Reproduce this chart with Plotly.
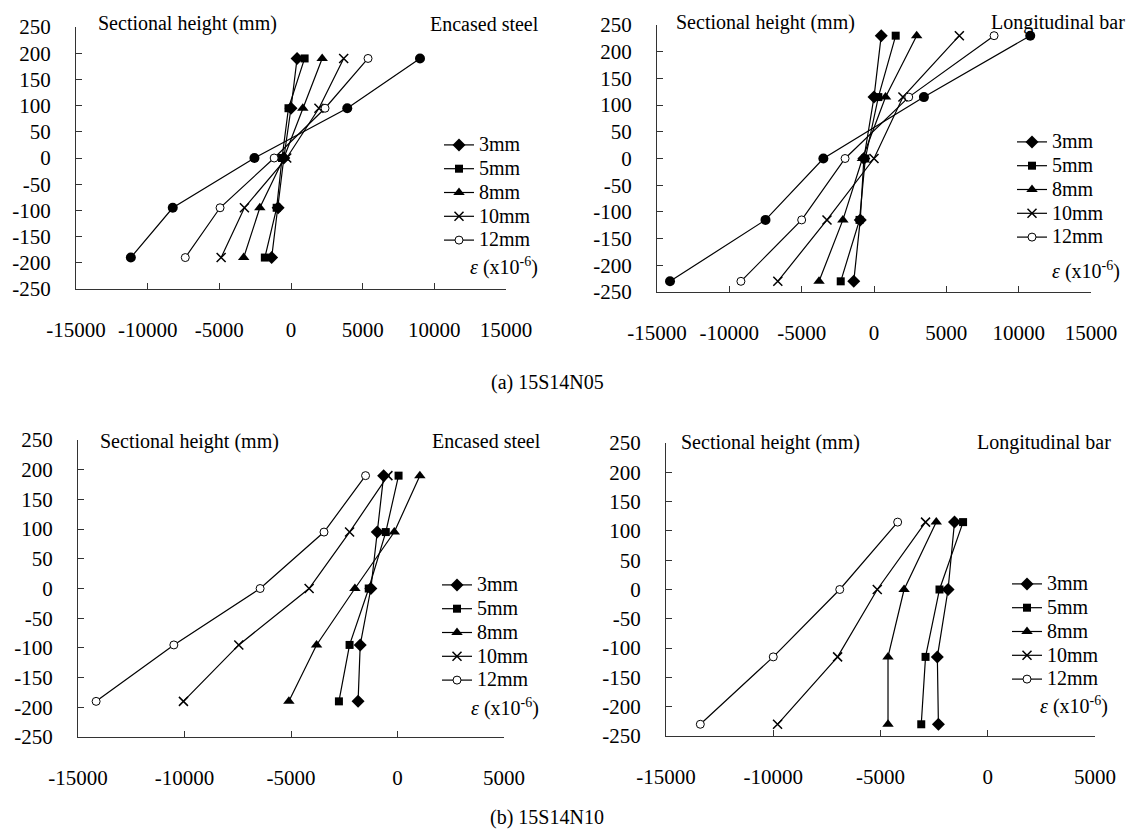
import plotly.graph_objects as go

W, H = 1133, 833
FONT = "Liberation Serif, Times New Roman, serif"

# ---------------- data ----------------
series_names = ["3mm", "5mm", "8mm", "10mm", "12mm"]

heights_a_steel = [190, 95, 0, -95, -190]
heights_a_bar = [230, 115, 0, -115, -230]
heights_b_steel = [190, 95, 0, -95, -190]
heights_b_bar = [115, 0, -115, -230]

# (a) 15S14N05 - encased steel strain (x1e-6)
a_steel_3 = [425, 0, -500, -900, -1350]
a_steel_5 = [950, -175, -625, -1000, -1825]
a_steel_8 = [2175, 825, -500, -2175, -3300]
a_steel_10 = [3675, 1950, -300, -3250, -4875]
a_steel_12 = [5375, 2375, -1175, -4950, -7375]
a_steel_extra = [9000, 3925, -2550, -8250, -11175]

# (a) 15S14N05 - longitudinal bar strain
a_bar_3 = [500, 0, -700, -950, -1400]
a_bar_5 = [1500, 300, -600, -1000, -2300]
a_bar_8 = [2950, 800, -800, -2150, -3800]
a_bar_10 = [5900, 2000, 0, -3250, -6650]
a_bar_12 = [8300, 2400, -2000, -5000, -9200]
a_bar_extra = [10800, 3450, -3500, -7500, -14100]

# (b) 15S14N10 - encased steel strain
b_steel_3 = [-650, -950, -1250, -1750, -1850]
b_steel_5 = [50, -550, -1350, -2250, -2750]
b_steel_8 = [1050, -150, -2000, -3800, -5100]
b_steel_10 = [-450, -2250, -4150, -7450, -10050]
b_steel_12 = [-1500, -3450, -6450, -10500, -14150]

# (b) 15S14N10 - longitudinal bar strain
b_bar_3 = [-1550, -1850, -2350, -2300]
b_bar_5 = [-1150, -2250, -2900, -3100]
b_bar_8 = [-2400, -3900, -4650, -4650]
b_bar_10 = [-2900, -5150, -7000, -9800]
b_bar_12 = [-4200, -6900, -10000, -13400]

xticks_a = [-15000, -10000, -5000, 0, 5000, 10000, 15000]
xticklabels_a = ["-15000", "-10000", "-5000", "0", "5000", "10000", "15000"]
xticks_b = [-15000, -10000, -5000, 0, 5000]
xticklabels_b = ["-15000", "-10000", "-5000", "0", "5000"]
yticks = [-250, -200, -150, -100, -50, 0, 50, 100, 150, 200, 250]
yticklabels = ["-250", "-200", "-150", "-100", "-50", "0", "50", "100", "150", "200", "250"]

# ---------------- styles ----------------
marker_styles = [
    dict(symbol="diamond", size=10, color="black"),
    dict(symbol="square", size=8, color="black"),
    dict(symbol="triangle-up", size=10, color="black"),
    dict(symbol="x-thin", size=9, color="black", line=dict(width=1.5, color="black")),
    dict(symbol="circle", size=8, color="white", line=dict(width=1, color="black")),
]
extra_marker = dict(symbol="circle", size=10, color="black")


def px_x(p):
    return p / W


def px_y(p):
    return 1 - p / H


fig = go.Figure()

panels = [
    ("", "legend", heights_a_steel,
     [a_steel_3, a_steel_5, a_steel_8, a_steel_10, a_steel_12], a_steel_extra),
    ("2", "legend2", heights_a_bar,
     [a_bar_3, a_bar_5, a_bar_8, a_bar_10, a_bar_12], a_bar_extra),
    ("3", "legend3", heights_b_steel,
     [b_steel_3, b_steel_5, b_steel_8, b_steel_10, b_steel_12], None),
    ("4", "legend4", heights_b_bar,
     [b_bar_3, b_bar_5, b_bar_8, b_bar_10, b_bar_12], None),
]

for suf, leg, hts, series, extra in panels:
    xa = "x" + suf
    ya = "y" + suf
    if extra is not None:
        fig.add_trace(go.Scatter(
            x=extra, y=hts, mode="lines+markers", xaxis=xa, yaxis=ya,
            line=dict(color="black", width=1.2), marker=extra_marker,
            showlegend=False, cliponaxis=False))
    for name, vals, ms in zip(series_names, series, marker_styles):
        fig.add_trace(go.Scatter(
            x=vals, y=hts, mode="lines+markers",
            name='<span style="font-size:20px">' + name + '</span>',
            xaxis=xa, yaxis=ya,
            line=dict(color="black", width=1.2), marker=ms, legend=leg,
            cliponaxis=False))

axis_common = dict(
    showgrid=False, zeroline=False, showline=True, linecolor="#333", linewidth=1.3,
    ticks="inside", ticklen=6, tickcolor="#333", tickwidth=1.2, automargin=False,
    tickfont=dict(family=FONT, size=21, color="black"),
)

# panel geometry in pixels: (x0, x1, ytop, ybottom)
geom = {
    "": (76, 506, 27, 289),
    "2": (657, 1091, 25, 292),
    "3": (78, 504, 440, 737),
    "4": (666, 1095, 443, 736),
}

layout = dict(
    template="none",
    width=W, height=H, margin=dict(l=0, r=0, t=0, b=0, autoexpand=False),
    paper_bgcolor="white", plot_bgcolor="white",
    font=dict(family=FONT, size=20, color="black"),
)

for suf, (x0, x1, yt, yb) in geom.items():
    wide = suf in ("", "2")
    xr = [-15000, 15000] if wide else [-15000, 5000]
    xt = xticks_a if wide else xticks_b
    xl = xticklabels_a if wide else xticklabels_b
    layout["xaxis" + suf] = dict(
        axis_common, domain=[px_x(x0), px_x(x1)], range=xr, tickvals=xt, ticktext=xl,
        anchor="y" + suf, ticklabelstandoff=22, fixedrange=True)
    layout["yaxis" + suf] = dict(
        axis_common, domain=[px_y(yb), px_y(yt)], range=[-250, 250], tickvals=yticks,
        ticktext=yticklabels, anchor="x" + suf, ticklabelstandoff=20, fixedrange=True)

leg_common = dict(
    bgcolor="rgba(0,0,0,0)", borderwidth=0, xanchor="left", yanchor="top",
    font=dict(family=FONT, size=16, color="black"), tracegroupgap=0,
    itemclick=False, itemdoubleclick=False,
)
layout["legend"] = dict(leg_common, x=px_x(439), y=px_y(128))
layout["legend2"] = dict(leg_common, x=px_x(1012), y=px_y(125))
layout["legend3"] = dict(leg_common, x=px_x(437), y=px_y(568))
layout["legend4"] = dict(leg_common, x=px_x(1007), y=px_y(567))

fig.update_layout(**layout)

ann = []


def text(x, y, s, anchor="left", size=20):
    ann.append(dict(x=px_x(x), y=px_y(y), xref="paper", yref="paper", text=s,
                    showarrow=False, xanchor=anchor, yanchor="middle",
                    font=dict(family=FONT, size=size, color="black")))


eps = "<i>ε</i> (x10<sup>-6</sup>)"
# panel (a) left
text(96, 24, "Sectional height (mm)")
text(541, 24, "Encased steel", "right")
text(540, 266, eps, "right")
# panel (a) right
text(674, 22, "Sectional height (mm)")
text(1127, 22, "Longitudinal bar", "right")
text(1122, 270, eps, "right")
# panel (b) left
text(98, 441, "Sectional height (mm)")
text(543, 441, "Encased steel", "right")
text(541, 707, eps, "right")
# panel (b) right
text(679, 442, "Sectional height (mm)")
text(1113, 442, "Longitudinal bar", "right")
text(1110, 705, eps, "right")
# captions
text(547, 382, "(a) 15S14N05", "center")
text(547, 817, "(b) 15S14N10", "center")

fig.update_layout(annotations=ann)

fig.write_html(
    "out.html",
    config={"displayModeBar": False, "staticPlot": False},
    post_script="document.body.style.margin='0px';document.body.style.overflow='hidden';",
)
